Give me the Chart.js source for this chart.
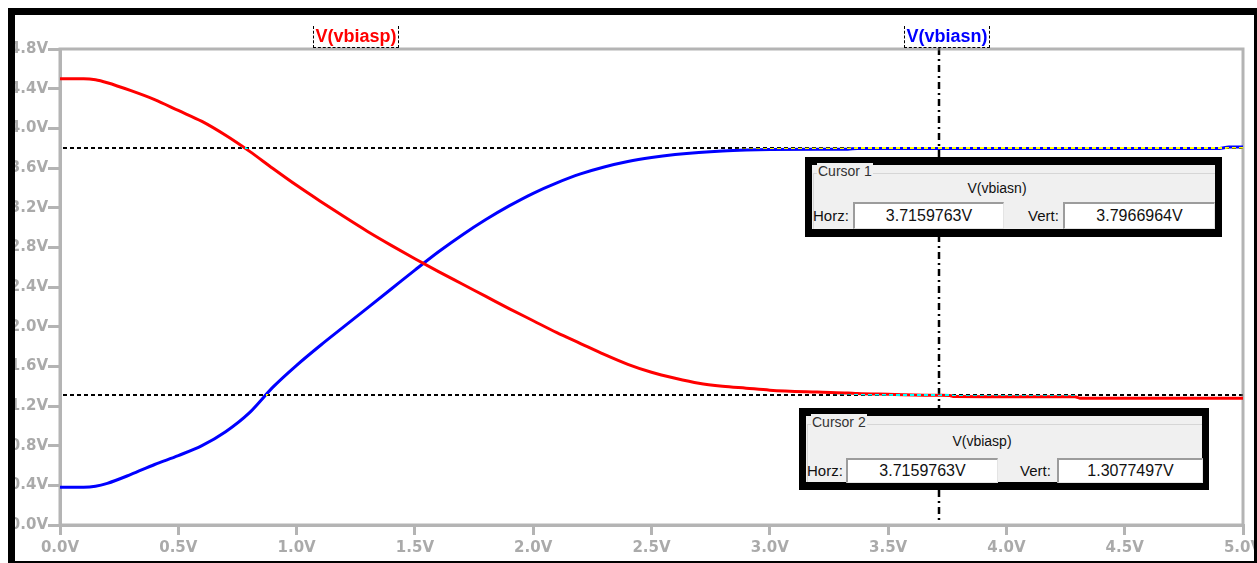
<!DOCTYPE html>
<html>
<head>
<meta charset="utf-8">
<title>V(vbiasp) / V(vbiasn)</title>
<script src="https://cdn.jsdelivr.net/npm/chart.js@4/dist/chart.umd.min.js"></script>
<style>
    html, body { margin: 0; padding: 0; background: #fff; }
    #wrap { position: relative; width: 1257px; height: 563px; overflow: hidden; }
    #plot { position: absolute; left: 0; top: 0; }
    .frame {
        position: absolute; left: 8px; top: 8px; width: 1249px; height: 555px;
        box-sizing: border-box; border-style: solid; border-color: #000;
        border-width: 7px 3px 2px 7px; pointer-events: none; z-index: 10;
    }
    .trace-label {
        position: absolute; top: 26px; height: 22px; box-sizing: border-box;
        border: 1px dashed #000; border-top: none;
        font: bold 18px "Liberation Sans", Arial, sans-serif; line-height: 20px;
        text-align: center; white-space: nowrap;
    }
    .cursor-box {
        position: absolute; box-sizing: border-box; background: #f0f0f0;
        border: 7px solid #000; border-top-width: 8px; border-bottom-width: 8px;
        font-family: "Liberation Sans", Arial, sans-serif; color: #111; z-index: 5;
    }
    .cursor-box div { position: absolute; white-space: nowrap; }
    .cursor-box .group {
        left: 1px; top: 8px; right: 0; bottom: 0;
        border-top: 1px solid #d6d6d6; border-left: 1px solid #d6d6d6;
    }
    .cursor-box .caption { top: -2px; font-size: 14px; line-height: 16px; color: #333; background: #f0f0f0; padding: 0 1px; }
    .cursor-box .trace { width: 120px; text-align: center; font-size: 14px; line-height: 16px; }
    .cursor-box .name { font-size: 15px; line-height: 18px; }
    .cursor-box .field {
        box-sizing: border-box; background: #fff; text-align: center;
        border: 1px solid #e4e4e4; border-top: 2px solid #9c9c9c; border-left: 2px solid #9c9c9c;
        font-size: 16px;
    }
</style>
</head>
<body>
<div id="wrap">
    <canvas id="plot"></canvas>

    <div class="trace-label" id="label-p" style="left:313px; width:86px; color:#ff0000;"></div>
    <div class="trace-label" id="label-n" style="left:904px; width:86px; color:#0000ff;"></div>

    <!-- cursor 1 sits on V(vbiasn) -->
    <div class="cursor-box" style="left:805px; top:157px; width:417px; height:80px;">
        <div class="group"></div>
        <div class="caption" style="left:5px;">Cursor 1</div>
        <div class="trace" id="c1-trace" style="left:125px; top:15px;"></div>
        <div class="name" style="left:1px; top:42px;">Horz:</div>
        <div class="field" id="c1-horz" style="left:41px; top:37px; width:151px; height:27px; line-height:24px;"></div>
        <div class="name" style="left:216px; top:42px;">Vert:</div>
        <div class="field" id="c1-vert" style="left:251px; top:37px; width:152px; height:27px; line-height:24px;"></div>
    </div>

    <!-- cursor 2 sits on V(vbiasp) -->
    <div class="cursor-box" style="left:799px; top:408px; width:410px; height:82px;">
        <div class="group"></div>
        <div class="caption" style="left:5px;">Cursor 2</div>
        <div class="trace" id="c2-trace" style="left:116px; top:17px;"></div>
        <div class="name" style="left:1px; top:46px;">Horz:</div>
        <div class="field" id="c2-horz" style="left:40px; top:42px; width:152px; height:25px; line-height:22px;"></div>
        <div class="name" style="left:214px; top:46px;">Vert:</div>
        <div class="field" id="c2-vert" style="left:251px; top:42px; width:146px; height:25px; line-height:22px;"></div>
    </div>

    <div class="frame"></div>
</div>

<script>
// DC sweep points (V) and the two bias voltages at each point
const sweep = [0, 0.1, 0.15, 0.2, 0.3, 0.4, 0.5, 0.6, 0.7, 0.8,
    0.9, 1.0, 1.1, 1.2, 1.3, 1.4, 1.5, 1.6, 1.7, 1.8,
    1.9, 2.0, 2.1, 2.2, 2.3, 2.4, 2.5, 2.6, 2.7, 2.8,
    2.9, 3.0, 3.2, 3.33, 3.37, 3.5, 3.716, 3.76, 3.78, 4.0,
    4.29, 4.31, 4.6, 4.9, 4.94, 5.0];

const vbiasp = [4.50, 4.50, 4.49, 4.46, 4.38, 4.29, 4.18, 4.07, 3.93, 3.77,
    3.595, 3.425, 3.265, 3.11, 2.96, 2.82, 2.685, 2.555, 2.43, 2.305,
    2.18, 2.06, 1.94, 1.83, 1.72, 1.62, 1.54, 1.48, 1.43, 1.40,
    1.38, 1.36, 1.34, 1.33, 1.325, 1.318, 1.3077, 1.306, 1.295, 1.294,
    1.293, 1.279, 1.278, 1.278, 1.278, 1.278];

const vbiasn = [0.38, 0.38, 0.39, 0.42, 0.51, 0.61, 0.70, 0.80, 0.94, 1.13,
    1.39, 1.61, 1.81, 2.00, 2.19, 2.38, 2.57, 2.755, 2.925, 3.08,
    3.22, 3.345, 3.45, 3.54, 3.61, 3.665, 3.705, 3.735, 3.757, 3.772,
    3.781, 3.786, 3.789, 3.790, 3.797, 3.797, 3.7967, 3.797, 3.797, 3.797,
    3.797, 3.797, 3.797, 3.797, 3.812, 3.812];

const traceNames = ['V(vbiasp)', 'V(vbiasn)'];
const traceColors = ['#ff0000', '#0000ff'];

// cursor readouts: shared horizontal position, vertical value on each trace
const cursorHorz = 3.7159763;
const cursor1Vert = 3.7966964;   // on V(vbiasn)
const cursor2Vert = 1.3077497;   // on V(vbiasp)

const xTicks = [0, 0.5, 1.0, 1.5, 2.0, 2.5, 3.0, 3.5, 4.0, 4.5, 5.0];
const yTicks = [0, 0.4, 0.8, 1.2, 1.6, 2.0, 2.4, 2.8, 3.2, 3.6, 4.0, 4.4, 4.8];

const axisGray = '#b4b4b4';
const labelGray = '#aaaaaa';

// texts on the page
document.getElementById('label-p').textContent = traceNames[0];
document.getElementById('label-n').textContent = traceNames[1];
document.getElementById('c1-trace').textContent = traceNames[1];
document.getElementById('c2-trace').textContent = traceNames[0];
document.getElementById('c1-horz').textContent = cursorHorz.toFixed(7) + 'V';
document.getElementById('c2-horz').textContent = cursorHorz.toFixed(7) + 'V';
document.getElementById('c1-vert').textContent = cursor1Vert.toFixed(7) + 'V';
document.getElementById('c2-vert').textContent = cursor2Vert.toFixed(7) + 'V';

const toPoints = (ys) => sweep.map((x, i) => ({x: x, y: ys[i]}));

// white background, so the cursor lines can be drawn with 'difference'
const paperPlugin = {
    id: 'paper',
    beforeDraw(chart) {
        const ctx = chart.ctx;
        ctx.save();
        ctx.fillStyle = '#fff';
        ctx.fillRect(0, 0, chart.width, chart.height);
        ctx.restore();
    },
    beforeDatasetsDraw(chart) {
        // plot frame (top and right sides too)
        const a = chart.chartArea;
        const ctx = chart.ctx;
        ctx.save();
        ctx.strokeStyle = axisGray;
        ctx.lineWidth = 3;
        ctx.strokeRect(a.left, a.top, a.right - a.left, a.bottom - a.top);
        ctx.restore();
    }
};

// cursor cross hairs, inverted over the traces like the simulator does
const cursorPlugin = {
    id: 'cursors',
    afterDatasetsDraw(chart) {
        const ctx = chart.ctx;
        const a = chart.chartArea;
        const xs = chart.scales.x;
        const ys = chart.scales.y;
        ctx.save();
        ctx.globalCompositeOperation = 'difference';
        ctx.strokeStyle = '#fff';

        ctx.lineWidth = 2;
        ctx.setLineDash([4, 3]);
        [cursor1Vert, cursor2Vert].forEach(v => {
            const y = Math.round(ys.getPixelForValue(v));
            ctx.beginPath();
            ctx.moveTo(a.left + 3, y);
            ctx.lineTo(a.right, y);
            ctx.stroke();
        });

        const x = Math.round(xs.getPixelForValue(cursorHorz));
        ctx.lineWidth = 2.5;
        ctx.setLineDash([7, 4, 2, 4]);
        ctx.beginPath();
        ctx.moveTo(x, a.top - 1);
        ctx.lineTo(x, a.bottom - 2);
        ctx.stroke();
        ctx.restore();
    }
};

const tickFont = {family: '"DejaVu Sans", sans-serif', size: 15, weight: 'bold'};

new Chart(document.getElementById('plot'), {
    type: 'line',
    data: {
        datasets: [{
            label: traceNames[0],
            data: toPoints(vbiasp),
            borderColor: traceColors[0],
            borderWidth: 3,
            pointRadius: 0,
            cubicInterpolationMode: 'monotone'
        }, {
            label: traceNames[1],
            data: toPoints(vbiasn),
            borderColor: traceColors[1],
            borderWidth: 3,
            pointRadius: 0,
            cubicInterpolationMode: 'monotone'
        }]
    },
    options: {
        responsive: true,
        maintainAspectRatio: false,
        animation: false,
        events: [],
        layout: {padding: {top: 49, right: 14, left: 0, bottom: 0}, autoPadding: false},
        plugins: {legend: {display: false}, tooltip: {enabled: false}},
        scales: {
            x: {
                type: 'linear',
                min: 0,
                max: 5,
                afterBuildTicks: (s) => { s.ticks = xTicks.map(v => ({value: v})); },
                ticks: {
                    callback: (v) => v.toFixed(1) + 'V',
                    color: labelGray,
                    font: tickFont,
                    padding: 4,
                    maxRotation: 0,
                    autoSkip: false
                },
                grid: {drawOnChartArea: false, drawTicks: true, tickLength: 10, color: axisGray, lineWidth: 3},
                border: {display: true, color: axisGray, width: 3},
                afterFit: (s) => { s.height = 38; s.paddingLeft = 0; s.paddingRight = 0; }
            },
            y: {
                type: 'linear',
                min: 0,
                max: 4.8,
                afterBuildTicks: (s) => { s.ticks = yTicks.map(v => ({value: v})); },
                ticks: {
                    callback: (v) => v.toFixed(1) + 'V',
                    color: labelGray,
                    font: tickFont,
                    padding: 0,
                    autoSkip: false
                },
                grid: {drawOnChartArea: false, drawTicks: true, tickLength: 12, color: axisGray, lineWidth: 3},
                border: {display: true, color: axisGray, width: 3},
                afterFit: (s) => { s.width = 60; s.paddingTop = 0; s.paddingBottom = 0; }
            }
        }
    },
    plugins: [paperPlugin, cursorPlugin]
});
</script>
</body>
</html>
